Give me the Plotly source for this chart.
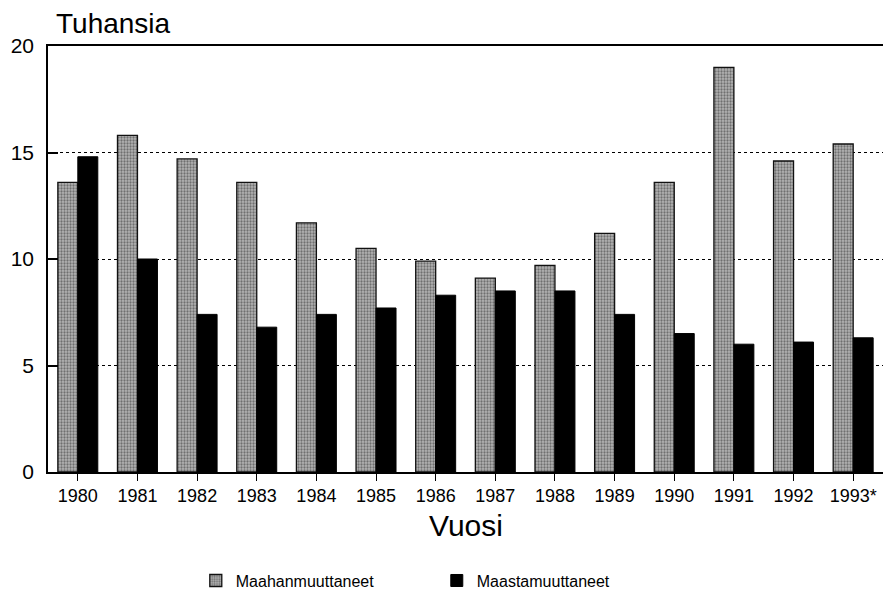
import plotly.graph_objects as go

years = ["1980", "1981", "1982", "1983", "1984", "1985", "1986", "1987",
         "1988", "1989", "1990", "1991", "1992", "1993*"]
maahanmuuttaneet = [13.6, 15.8, 14.7, 13.6, 11.7, 10.5, 9.9, 9.1, 9.7, 11.2, 13.6, 19.0, 14.6, 15.4]
maastamuuttaneet = [14.8, 10.0, 7.4, 6.8, 7.4, 7.7, 8.3, 8.5, 8.5, 7.4, 6.5, 6.0, 6.1, 6.3]
y_ticks = [0, 5, 10, 15, 20]

FONT = "Liberation Sans, Arial, sans-serif"

fig = go.Figure()
fig.add_trace(go.Bar(
    x=years, y=maahanmuuttaneet, name="Maahanmuuttaneet",
    marker=dict(color="#a8a8a8", line=dict(color="#111", width=1.3),
                pattern=dict(shape=".", fgcolor="#2a2a2a", bgcolor="#b4b4b4", size=3, solidity=0.45)),
))
fig.add_trace(go.Bar(
    x=years, y=maastamuuttaneet, name="Maastamuuttaneet",
    marker=dict(color="#000000", line=dict(color="#000", width=1)),
))

fig.update_layout(
    width=883, height=598,
    margin=dict(l=48, r=0, t=46, b=124),
    paper_bgcolor="white", plot_bgcolor="white",
    barmode="group", bargap=0.33, bargroupgap=0,
    font=dict(family=FONT, color="black"),
    showlegend=True,
    legend=dict(orientation="h", x=0.177, xanchor="left", y=-0.215, yanchor="top",
                font=dict(size=16, family=FONT, color="black"),
                entrywidth=196, entrywidthmode="pixels",
                bgcolor="rgba(0,0,0,0)"),
    annotations=[
        dict(text="Tuhansia", xref="paper", yref="paper", x=0.007, y=1.053,
             xanchor="left", yanchor="middle", showarrow=False,
             font=dict(size=28, family=FONT, color="black")),
        dict(text="Vuosi", xref="paper", yref="paper", x=0.5, y=-0.125,
             xanchor="center", yanchor="middle", showarrow=False,
             font=dict(size=30, family=FONT, color="black")),
    ],
)

fig.update_xaxes(
    showline=True, linecolor="black", linewidth=1.5, mirror=True,
    ticks="outside", ticklen=7, tickcolor="black", tickwidth=1,
    tickfont=dict(size=18, family=FONT, color="black"),
    showgrid=False, range=[-0.5, 13.5],
)
fig.update_yaxes(
    range=[0, 20], tickvals=y_ticks,
    showline=True, linecolor="black", linewidth=1.5, mirror=False,
    ticks="inside", ticklen=10, tickcolor="black", tickwidth=1.5,
    ticklabelstandoff=8,
    tickfont=dict(size=21, family=FONT, color="black"),
    showgrid=True, gridcolor="black", gridwidth=1, griddash="dot",
    zeroline=False,
)

fig.write_html("out.html", config={"displayModeBar": False},
               post_script="document.body.style.margin='0';")
